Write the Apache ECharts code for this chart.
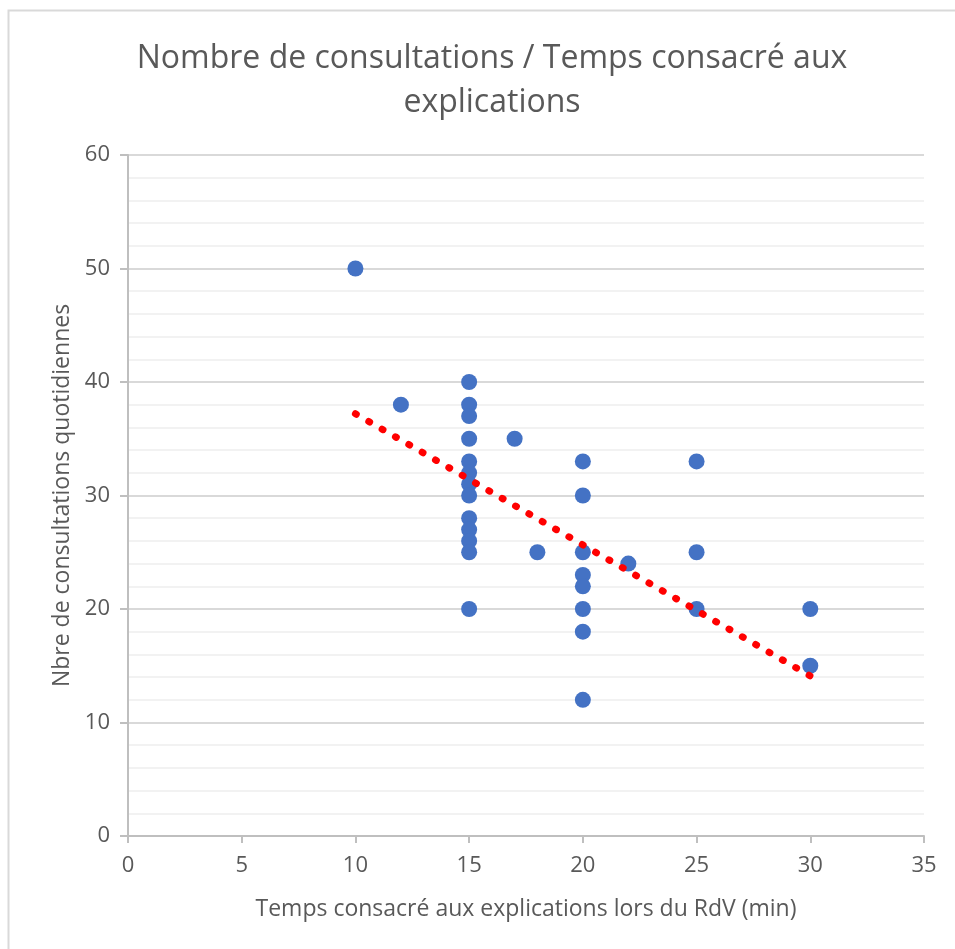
<!DOCTYPE html>
<html>
<head>
<meta charset="utf-8">
<script src="https://cdn.jsdelivr.net/npm/echarts@6/dist/echarts.min.js"></script>
<style>
  html, body { margin: 0; padding: 0; background: #fff; }
  #chart { width: 955px; height: 949px; }
</style>
</head>
<body>
<div id="chart"></div>
<script>
// temps consacré aux explications (min) / nombre de consultations quotidiennes
var tempsExplications = [10, 12, 15, 15, 15, 15, 15, 15, 15, 15, 15, 15, 15, 15, 15,
  17, 18, 20, 20, 20, 20, 20, 20, 20, 20, 22, 25, 25, 25, 30, 30];
var nbConsultations = [50, 38, 40, 38, 37, 35, 33, 32, 31, 30, 28, 27, 26, 25, 20,
  35, 25, 33, 30, 25, 23, 22, 20, 18, 12, 24, 33, 25, 20, 20, 15];

// courbe de tendance linéaire (début / fin)
var tendanceX = [10, 30];
var tendanceY = [37.2, 14.1];

var xTicks = [0, 5, 10, 15, 20, 25, 30, 35];
var yTicks = [0, 10, 20, 30, 40, 50, 60];

var points = tempsExplications.map(function (t, i) { return [t, nbConsultations[i]]; });
var tendance = tendanceX.map(function (t, i) { return [t, tendanceY[i]]; });

var textColor = '#595959';
var font = 'Open Sans';

var myChart = echarts.init(document.getElementById('chart'));
myChart.setOption({
  animation: false,
  backgroundColor: '#fff',
  graphic: [{
    type: 'rect',
    shape: { x: 8.5, y: 10.5, width: 1000, height: 1000 },
    style: { fill: 'none', stroke: '#d9d9d9', lineWidth: 2 }
  }],
  title: {
    text: 'Nombre de consultations / Temps consacré aux\nexplications',
    left: 487,
    top: 32,
    textAlign: 'center',
    textStyle: {
      color: textColor,
      fontFamily: font,
      fontWeight: 'normal',
      fontSize: 32,
      lineHeight: 44
    }
  },
  grid: { left: 128, right: 31, top: 155, bottom: 113 },
  xAxis: {
    type: 'value',
    min: 0,
    max: 35,
    interval: 5,
    name: 'Temps consacré aux explications lors du RdV (min)',
    nameLocation: 'middle',
    nameGap: 62,
    nameTextStyle: { color: textColor, fontFamily: font, fontSize: 23 },
    axisLine: { show: true, lineStyle: { color: '#bfbfbf', width: 2 } },
    axisTick: { show: true, length: 7, lineStyle: { color: '#bfbfbf', width: 2 } },
    axisLabel: {
      color: textColor, fontFamily: font, fontSize: 22, margin: 19,
      formatter: function (v) { return xTicks.indexOf(v) >= 0 ? String(v) : ''; }
    },
    splitLine: { show: false }
  },
  yAxis: {
    type: 'value',
    min: 0,
    max: 60,
    interval: 10,
    name: 'Nbre de consultations quotidiennes',
    nameLocation: 'middle',
    nameGap: 54,
    nameTextStyle: { color: textColor, fontFamily: font, fontSize: 23 },
    axisLine: { show: true, lineStyle: { color: '#bfbfbf', width: 2 } },
    axisTick: { show: true, length: 8, lineStyle: { color: '#bfbfbf', width: 2 } },
    axisLabel: {
      color: textColor, fontFamily: font, fontSize: 22, margin: 18,
      formatter: function (v) { return yTicks.indexOf(v) >= 0 ? String(v) : ''; }
    },
    splitLine: { show: true, lineStyle: { color: '#d9d9d9', width: 2 } },
    minorTick: { show: false, splitNumber: 5 },
    minorSplitLine: { show: true, lineStyle: { color: '#f2f2f2', width: 2 } }
  },
  series: [
    {
      name: 'Consultations',
      type: 'scatter',
      data: points,
      symbol: 'circle',
      symbolSize: 16,
      itemStyle: { color: '#4472c4', opacity: 1 },
      z: 2
    },
    {
      name: 'Tendance',
      type: 'line',
      data: tendance,
      symbol: 'none',
      lineStyle: {
        color: '#ff0000',
        width: 7,
        type: [1, 14.4],
        cap: 'round'
      },
      z: 3
    }
  ]
});
</script>
</body>
</html>
